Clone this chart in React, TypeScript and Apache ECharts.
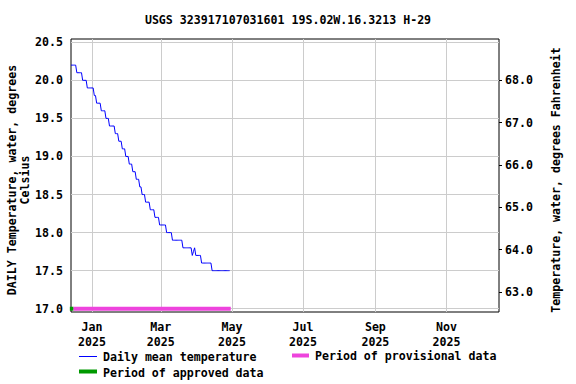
import React, { useEffect, useRef } from "react";
import * as echarts from "echarts";

const titleText = "USGS 323917107031601 19S.02W.16.3213 H-29";
const leftAxisName = "DAILY Temperature, water, degrees\nCelsius";
const rightAxisName = "Temperature, water, degrees Fahrenheit";

// first day of the daily series (UTC)
const seriesStart = [2024, 11, 14];
// daily mean water temperature, degrees Celsius, one value per day from seriesStart
const dailyMeanC = [
  20.2, 20.2, 20.2, 20.2, 20.2,
  20.1, 20.1, 20.1, 20.1, 20.1,
  20.0, 20.0, 20.0, 20.0,
  19.9, 19.9, 19.9, 19.9, 19.9, 19.9,
  19.8, 19.8,
  19.7, 19.7, 19.7, 19.7,
  19.6, 19.6, 19.6, 19.6,
  19.5, 19.5, 19.5,
  19.4, 19.4, 19.4, 19.4, 19.4,
  19.3, 19.3, 19.3,
  19.2, 19.2, 19.2,
  19.1, 19.1, 19.1,
  19.0, 19.0, 19.0,
  18.9, 18.9, 18.9,
  18.8, 18.8, 18.8,
  18.7, 18.7, 18.7,
  18.6, 18.6,
  18.5, 18.5, 18.5,
  18.4, 18.4, 18.4, 18.4,
  18.3, 18.3, 18.3, 18.3,
  18.2, 18.2, 18.2, 18.2,
  18.1, 18.1, 18.1, 18.1, 18.1, 18.1,
  18.0, 18.0, 18.0, 18.0, 18.0,
  17.9, 17.9, 17.9, 17.9, 17.9, 17.9, 17.9, 17.9, 17.9,
  17.8, 17.8, 17.8, 17.8, 17.8, 17.8, 17.8, 17.8,
  17.7, 17.75, 17.8,
  17.7, 17.7, 17.7, 17.7, 17.7,
  17.6, 17.6, 17.6, 17.6, 17.6, 17.6, 17.6, 17.6, 17.6,
  17.5, 17.5, 17.5, 17.5, 17.5, 17.5, 17.5, 17.5, 17.5, 17.5, 17.5, 17.5, 17.5, 17.5, 17.5, 17.5,
];

// data-approval periods [start, end] as [y, m(0-based), d]
const approvedPeriod = [[2024, 11, 13], [2024, 11, 16]];
const provisionalPeriod = [[2024, 11, 16], [2025, 3, 30]];
const periodLevelC = 17.0;

// axis extents and ticks
const xMin = [2024, 11, 14];
const xMax = [2025, 11, 16];
const xTickDates = [[2025, 0, 1], [2025, 2, 1], [2025, 4, 1], [2025, 6, 1], [2025, 8, 1], [2025, 10, 1]];
const monthNames = ["Jan", "Feb", "Mar", "Apr", "May", "Jun", "Jul", "Aug", "Sep", "Oct", "Nov", "Dec"];
const yMinC = 16.957;
const yMaxC = 20.543;
const yTicksC = [17.0, 17.5, 18.0, 18.5, 19.0, 19.5, 20.0, 20.5];
const yTicksF = [63, 64, 65, 66, 67, 68];

const ts = (d: number[]) => Date.UTC(d[0], d[1], d[2]);
const cToF = (c: number) => c * 1.8 + 32;

const FONT = "'DejaVu Sans Mono', monospace";
const FS = 11.6;

export default function App() {
  const ref = useRef<HTMLDivElement>(null);
  useEffect(() => {
    if (!ref.current) return;
    const chart = echarts.init(ref.current, undefined, { renderer: "svg" });
    const start = ts(seriesStart);
    const dayMs = 86400000;
    const lineData = dailyMeanC.map((v, i) => [start + i * dayMs, v]);
    const textBase = { fontFamily: FONT, fontSize: FS, fontWeight: "bold", color: "#000" };

    chart.setOption({
      animation: false,
      backgroundColor: "#fff",
      grid: {
        left: 71,
        top: 39,
        width: 428,
        height: 273,
        show: true,
        borderColor: "#000",
        borderWidth: 1,
        backgroundColor: "transparent",
        containLabel: false,
      },
      xAxis: {
        type: "value",
        min: ts(xMin),
        max: ts(xMax),
        axisLine: { show: false },
        axisTick: { show: false, customValues: xTickDates.map(ts) },
        splitLine: { show: true, lineStyle: { color: "#cccccc", width: 1 } },
        axisLabel: {
          customValues: xTickDates.map(ts),
          ...textBase,
          lineHeight: 15,
          margin: 7,
          hideOverlap: false,
          formatter: (v: number) => {
            const d = new Date(v);
            return monthNames[d.getUTCMonth()] + "\n" + d.getUTCFullYear();
          },
        },
      },
      yAxis: [
        {
          type: "value",
          min: yMinC,
          max: yMaxC,
          position: "left",
          axisLine: { show: false },
          axisTick: { show: false, customValues: yTicksC },
          splitLine: { show: true, lineStyle: { color: "#cccccc", width: 1 } },
          axisLabel: {
            customValues: yTicksC,
            ...textBase,
            margin: 8,
            formatter: (v: number) => v.toFixed(1),
          },
        },
        {
          type: "value",
          min: cToF(yMinC),
          max: cToF(yMaxC),
          position: "right",
          axisLine: { show: false },
          axisTick: {
            show: true,
            customValues: yTicksF,
            length: 3,
            inside: false,
            lineStyle: { color: "#000", width: 1 },
          },
          splitLine: { show: false },
          axisLabel: {
            customValues: yTicksF,
            ...textBase,
            margin: 6,
            formatter: (v: number) => v.toFixed(1),
          },
        },
      ],
      series: [
        {
          type: "line",
          name: "Daily mean temperature",
          data: lineData,
          showSymbol: false,
          symbol: "none",
          lineStyle: { color: "#0000ff", width: 1 },
          z: 3,
        },
        {
          type: "line",
          name: "Period of provisional data",
          data: provisionalPeriod.map((d) => [ts(d), periodLevelC]),
          symbol: "none",
          lineStyle: { color: "#ee44dd", width: 4, cap: "butt" },
          z: 4,
        },
        {
          type: "line",
          name: "Period of approved data",
          data: approvedPeriod.map((d) => [ts(d), periodLevelC]),
          symbol: "none",
          lineStyle: { color: "#009900", width: 4, cap: "butt" },
          z: 5,
        },
      ],
      graphic: [
        {
          type: "text",
          x: 288,
          y: 20,
          style: {
            text: titleText,
            font: `bold ${FS}px ${FONT}`,
            fill: "#000",
            align: "center",
            verticalAlign: "middle",
          },
        },
        {
          type: "text",
          x: 18.5,
          y: 180,
          rotation: Math.PI / 2,
          style: {
            text: leftAxisName,
            font: `bold ${FS}px ${FONT}`,
            fill: "#000",
            align: "center",
            verticalAlign: "middle",
            lineHeight: 13,
          },
        },
        {
          type: "text",
          x: 556,
          y: 180,
          rotation: Math.PI / 2,
          style: {
            text: rightAxisName,
            font: `bold ${FS}px ${FONT}`,
            fill: "#000",
            align: "center",
            verticalAlign: "middle",
          },
        },
        {
          type: "line",
          shape: { x1: 79, y1: 356.5, x2: 97, y2: 356.5 },
          style: { stroke: "#0000ff", lineWidth: 1 },
        },
        {
          type: "text",
          x: 103,
          y: 357,
          style: {
            text: "Daily mean temperature",
            font: `bold ${FS}px ${FONT}`,
            fill: "#000",
            verticalAlign: "middle",
          },
        },
        {
          type: "rect",
          shape: { x: 292, y: 353.5, width: 17, height: 4 },
          style: { fill: "#ee44dd" },
        },
        {
          type: "text",
          x: 315,
          y: 356,
          style: {
            text: "Period of provisional data",
            font: `bold ${FS}px ${FONT}`,
            fill: "#000",
            verticalAlign: "middle",
          },
        },
        {
          type: "rect",
          shape: { x: 79, y: 369.5, width: 18, height: 4 },
          style: { fill: "#009900" },
        },
        {
          type: "text",
          x: 103,
          y: 372.5,
          style: {
            text: "Period of approved data",
            font: `bold ${FS}px ${FONT}`,
            fill: "#000",
            verticalAlign: "middle",
          },
        },
      ],
    });
    return () => chart.dispose();
  }, []);
  return (
    <div
      ref={ref}
      style={{ position: "absolute", left: 0, top: 0, width: 576, height: 384 }}
    />
  );
}
